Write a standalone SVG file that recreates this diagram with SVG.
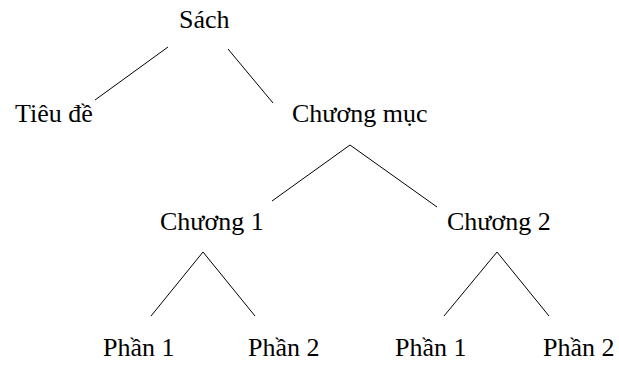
<svg xmlns="http://www.w3.org/2000/svg" width="619" height="365" viewBox="0 0 619 365">
<style>
text{font-family:"Liberation Serif","Times New Roman",serif;font-size:26px;fill:#000}
.c line{stroke:#000;stroke-width:1}
</style>
<rect width="619" height="365" fill="#fff"/>
<g class="c" id="connectors">
<line x1="168" y1="47" x2="95" y2="100"/>
<line x1="228" y1="49" x2="273" y2="103"/>
<line x1="350" y1="145" x2="272" y2="201"/>
<line x1="350" y1="145" x2="437" y2="207"/>
<line x1="203" y1="252" x2="151" y2="316"/>
<line x1="203" y1="252" x2="255" y2="316"/>
<line x1="497" y1="252" x2="444" y2="316"/>
<line x1="497" y1="252" x2="549" y2="316"/>
</g>
<g id="sach"><text x="179" y="28">Sách</text></g>
<g id="tieude"><text x="15" y="122">Tiêu đề</text></g>
<g id="chuongmuc"><text x="292" y="122">Chương mục</text></g>
<g id="chuong1"><text x="160" y="230">Chương 1</text></g>
<g id="chuong2"><text x="447" y="230">Chương 2</text></g>
<g id="phan11"><text x="103" y="356">Phần 1</text></g>
<g id="phan12"><text x="248" y="356">Phần 2</text></g>
<g id="phan21"><text x="395" y="356">Phần 1</text></g>
<g id="phan22"><text x="543" y="356">Phần 2</text></g>
</svg>
